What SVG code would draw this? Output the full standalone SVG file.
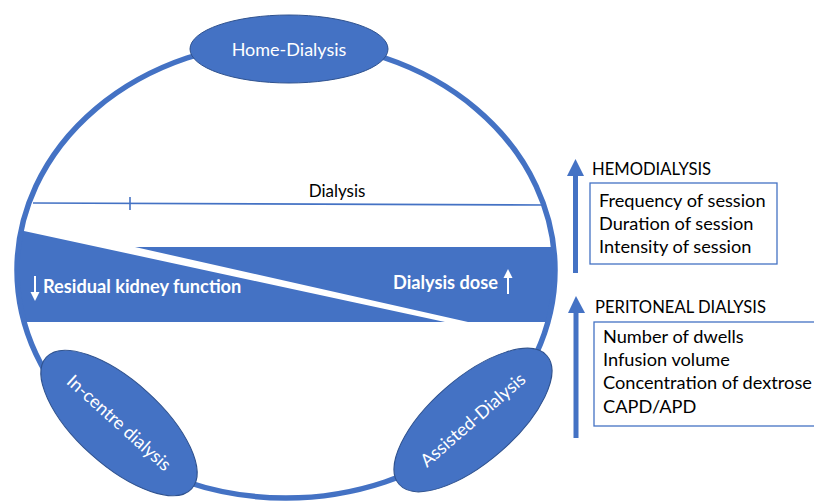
<svg xmlns="http://www.w3.org/2000/svg" width="814" height="503" viewBox="0 0 814 503">
<style>
.node{fill:#4472C4;stroke:#2F528F;stroke-width:1}
.wt{fill:#fff;font-family:Lato,"Liberation Sans",sans-serif;font-size:18px}
.wb{fill:#fff;font-family:Lato,"Liberation Sans",sans-serif;font-size:18.2px;font-weight:bold}
.bt{fill:#000;font-family:Lato,"Liberation Sans",sans-serif;font-size:18.2px}
.hd{fill:#000;font-family:Lato,"Liberation Sans",sans-serif;font-size:16.6px}
.box{fill:#fff;stroke:#4472C4;stroke-width:1.3}
</style>
<defs>
<clipPath id="inner"><ellipse cx="286" cy="270" rx="269" ry="228"/></clipPath>
</defs>
<rect width="814" height="503" fill="#fff"/>
<g id="band" clip-path="url(#inner)">
<polygon points="10,228 445,322 10,322" fill="#4472C4"/>
<polygon points="135,247 565,247 565,322 468,322" fill="#4472C4"/>
</g>
<g id="connectors">
<ellipse cx="286" cy="270" rx="269" ry="228" fill="none" stroke="#4472C4" stroke-width="5.5"/>
<line x1="33" y1="203" x2="545" y2="205" stroke="#4472C4" stroke-width="1.6"/>
<line x1="130" y1="197" x2="130" y2="210" stroke="#4472C4" stroke-width="1.6"/>
<line x1="575.5" y1="273" x2="575.5" y2="172" stroke="#4472C4" stroke-width="5"/>
<polygon points="567,176 575.5,159 584,176" fill="#4472C4"/>
<line x1="576" y1="438" x2="576" y2="309" stroke="#4472C4" stroke-width="5"/>
<polygon points="568,313 576,296 585,313" fill="#4472C4"/>
<line x1="35" y1="276" x2="35" y2="293" stroke="#fff" stroke-width="2"/>
<polygon points="30.5,292 35,301 39.5,292" fill="#fff"/>
<line x1="508" y1="294" x2="508" y2="277" stroke="#fff" stroke-width="2"/>
<polygon points="503.5,278 508,269 512.5,278" fill="#fff"/>
</g>
<text class="bt" x="337" y="197" text-anchor="middle" style="font-size:17px">Dialysis</text>
<text class="wb" x="43" y="293">Residual kidney function</text>
<text class="wb" x="393" y="289">Dialysis dose</text>
<g id="home">
<ellipse class="node" cx="289" cy="49" rx="99" ry="34"/>
<text class="wt" x="289" y="56" text-anchor="middle">Home-Dialysis</text>
</g>
<g id="incentre" transform="translate(119,423) rotate(42)">
<ellipse class="node" cx="0" cy="0" rx="98" ry="42"/>
<text class="wt" x="0" y="6" text-anchor="middle">In-centre dialysis</text>
</g>
<g id="assisted" transform="translate(473,420) rotate(-41)">
<ellipse class="node" cx="0" cy="0" rx="98" ry="42"/>
<text class="wt" x="0" y="6" text-anchor="middle">Assisted-Dialysis</text>
</g>
<g id="hemo">
<text class="hd" x="592" y="175">HEMODIALYSIS</text>
<rect class="box" x="590" y="183" width="187" height="81"/>
<text class="bt" x="599" y="207">Frequency of session</text>
<text class="bt" x="599" y="230">Duration of session</text>
<text class="bt" x="599" y="253">Intensity of session</text>
</g>
<g id="pd">
<text class="hd" x="595" y="313">PERITONEAL DIALYSIS</text>
<rect class="box" x="594" y="322" width="230" height="104"/>
<text class="bt" x="603" y="343">Number of dwells</text>
<text class="bt" x="603" y="366">Infusion volume</text>
<text class="bt" x="603" y="389">Concentration of dextrose</text>
<text class="bt" x="603" y="413">CAPD/APD</text>
</g>
</svg>
